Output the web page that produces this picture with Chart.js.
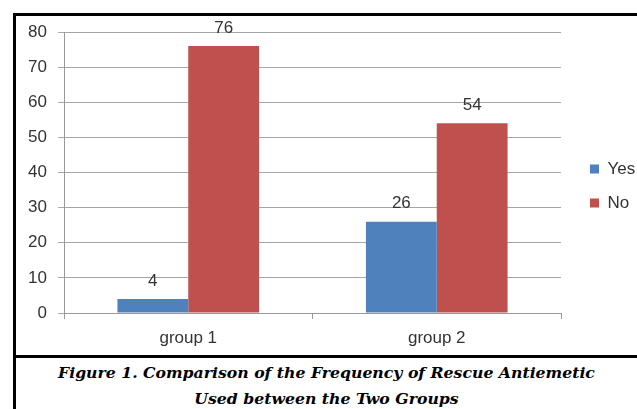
<!DOCTYPE html>
<html lang="en">
<head>
    <meta charset="UTF-8">
    <title>Rescue Antiemetic Frequency</title>
    <script src="https://cdn.jsdelivr.net/npm/chart.js"></script>
    <style>
        body { margin: 0; background: #fff; font-family: "Liberation Sans", Arial, sans-serif; }
        #frame { position: absolute; left: 13px; top: 13px; width: 624px; height: 396px;
                 border-top: 3px solid #000; border-left: 3px solid #000; }
        #chart-box { position: absolute; left: 0; top: 0; width: 621px; height: 339px; }
        #divider { position: absolute; left: 0; top: 339px; width: 624px; border-top: 3px solid #000; }
        #caption { position: absolute; left: 0; top: 344px; width: 621px; text-align: center;
                   font-family: "DejaVu Serif", serif; font-weight: bold; font-style: italic;
                   font-size: 15.7px; line-height: 26px; color: #000; }
    </style>
</head>
<body>
    <div id="frame">
        <div id="chart-box"><canvas id="chart"></canvas></div>
        <div id="divider"></div>
        <div id="caption">Figure 1. Comparison of the Frequency of Rescue Antiemetic<br>Used between the Two Groups</div>
    </div>

    <script>
        const groups = ['group 1', 'group 2'];
        const yesValues = [4, 26];
        const noValues = [76, 54];
        const yTicks = [0, 10, 20, 30, 40, 50, 60, 70, 80];

        const FONT = '"Liberation Sans", Arial, sans-serif';

        // draws the number above each bar
        const barLabels = {
            id: 'barLabels',
            afterDatasetsDraw(chart) {
                const ctx = chart.ctx;
                ctx.save();
                ctx.font = '17px ' + FONT;
                ctx.fillStyle = '#333';
                ctx.textAlign = 'center';
                ctx.textBaseline = 'middle';
                chart.data.datasets.forEach((ds, i) => {
                    chart.getDatasetMeta(i).data.forEach((bar, j) => {
                        ctx.fillText(ds.data[j], bar.x, bar.y - 18);
                    });
                });
                ctx.restore();
            }
        };

        // legend column fixed at 76px wide, items nudged to where the original has them
        const legendPlace = {
            id: 'legendPlace',
            beforeInit(chart) {
                const lg = chart.legend;
                if (!lg) return;
                const fit = lg.fit;
                lg.fit = function () {
                    fit.call(this);
                    this.width = 76;
                };
                const draw = lg.draw;
                lg.draw = function () {
                    const box = this.legendHitBoxes && this.legendHitBoxes[0];
                    const dx = box ? 574 - box.left : 0;
                    const dy = box ? 153 - (box.top + box.height / 2) : 0;
                    this.ctx.save();
                    this.ctx.translate(dx, dy);
                    draw.apply(this, arguments);
                    this.ctx.restore();
                };
            }
        };

        new Chart(document.getElementById('chart'), {
            type: 'bar',
            data: {
                labels: groups,
                datasets: [
                    { label: 'Yes', data: yesValues, backgroundColor: '#4F81BD', borderWidth: 0 },
                    { label: 'No', data: noValues, backgroundColor: '#C0504D', borderWidth: 0 }
                ]
            },
            options: {
                responsive: true,
                maintainAspectRatio: false,
                animation: false,
                categoryPercentage: 0.57,
                barPercentage: 1,
                layout: { padding: { top: 16, right: 0, bottom: 0, left: 0 } },
                plugins: {
                    tooltip: { enabled: false },
                    legend: {
                        position: 'right',
                        labels: {
                            boxWidth: 9, boxHeight: 9, padding: 17,
                            color: '#333',
                            font: { size: 17, family: FONT }
                        }
                    }
                },
                scales: {
                    x: {
                        afterFit: axis => { axis.height = 42; },
                        grid: { drawOnChartArea: false, drawTicks: true, tickLength: 6, color: '#999' },
                        border: { color: '#999' },
                        ticks: { color: '#333', padding: 9, font: { size: 17, family: FONT } }
                    },
                    y: {
                        min: 0, max: 80,
                        afterBuildTicks: axis => { axis.ticks = yTicks.map(v => ({ value: v })); },
                        afterFit: axis => {
                            axis.width = 48;
                            axis.paddingTop = 0;
                            axis.paddingBottom = 0;
                        },
                        grid: { color: '#a6a6a6', tickLength: 6 },
                        border: { color: '#999' },
                        ticks: { color: '#333', padding: 11, font: { size: 17, family: FONT } }
                    }
                }
            },
            plugins: [barLabels, legendPlace]
        });
    </script>
</body>
</html>
